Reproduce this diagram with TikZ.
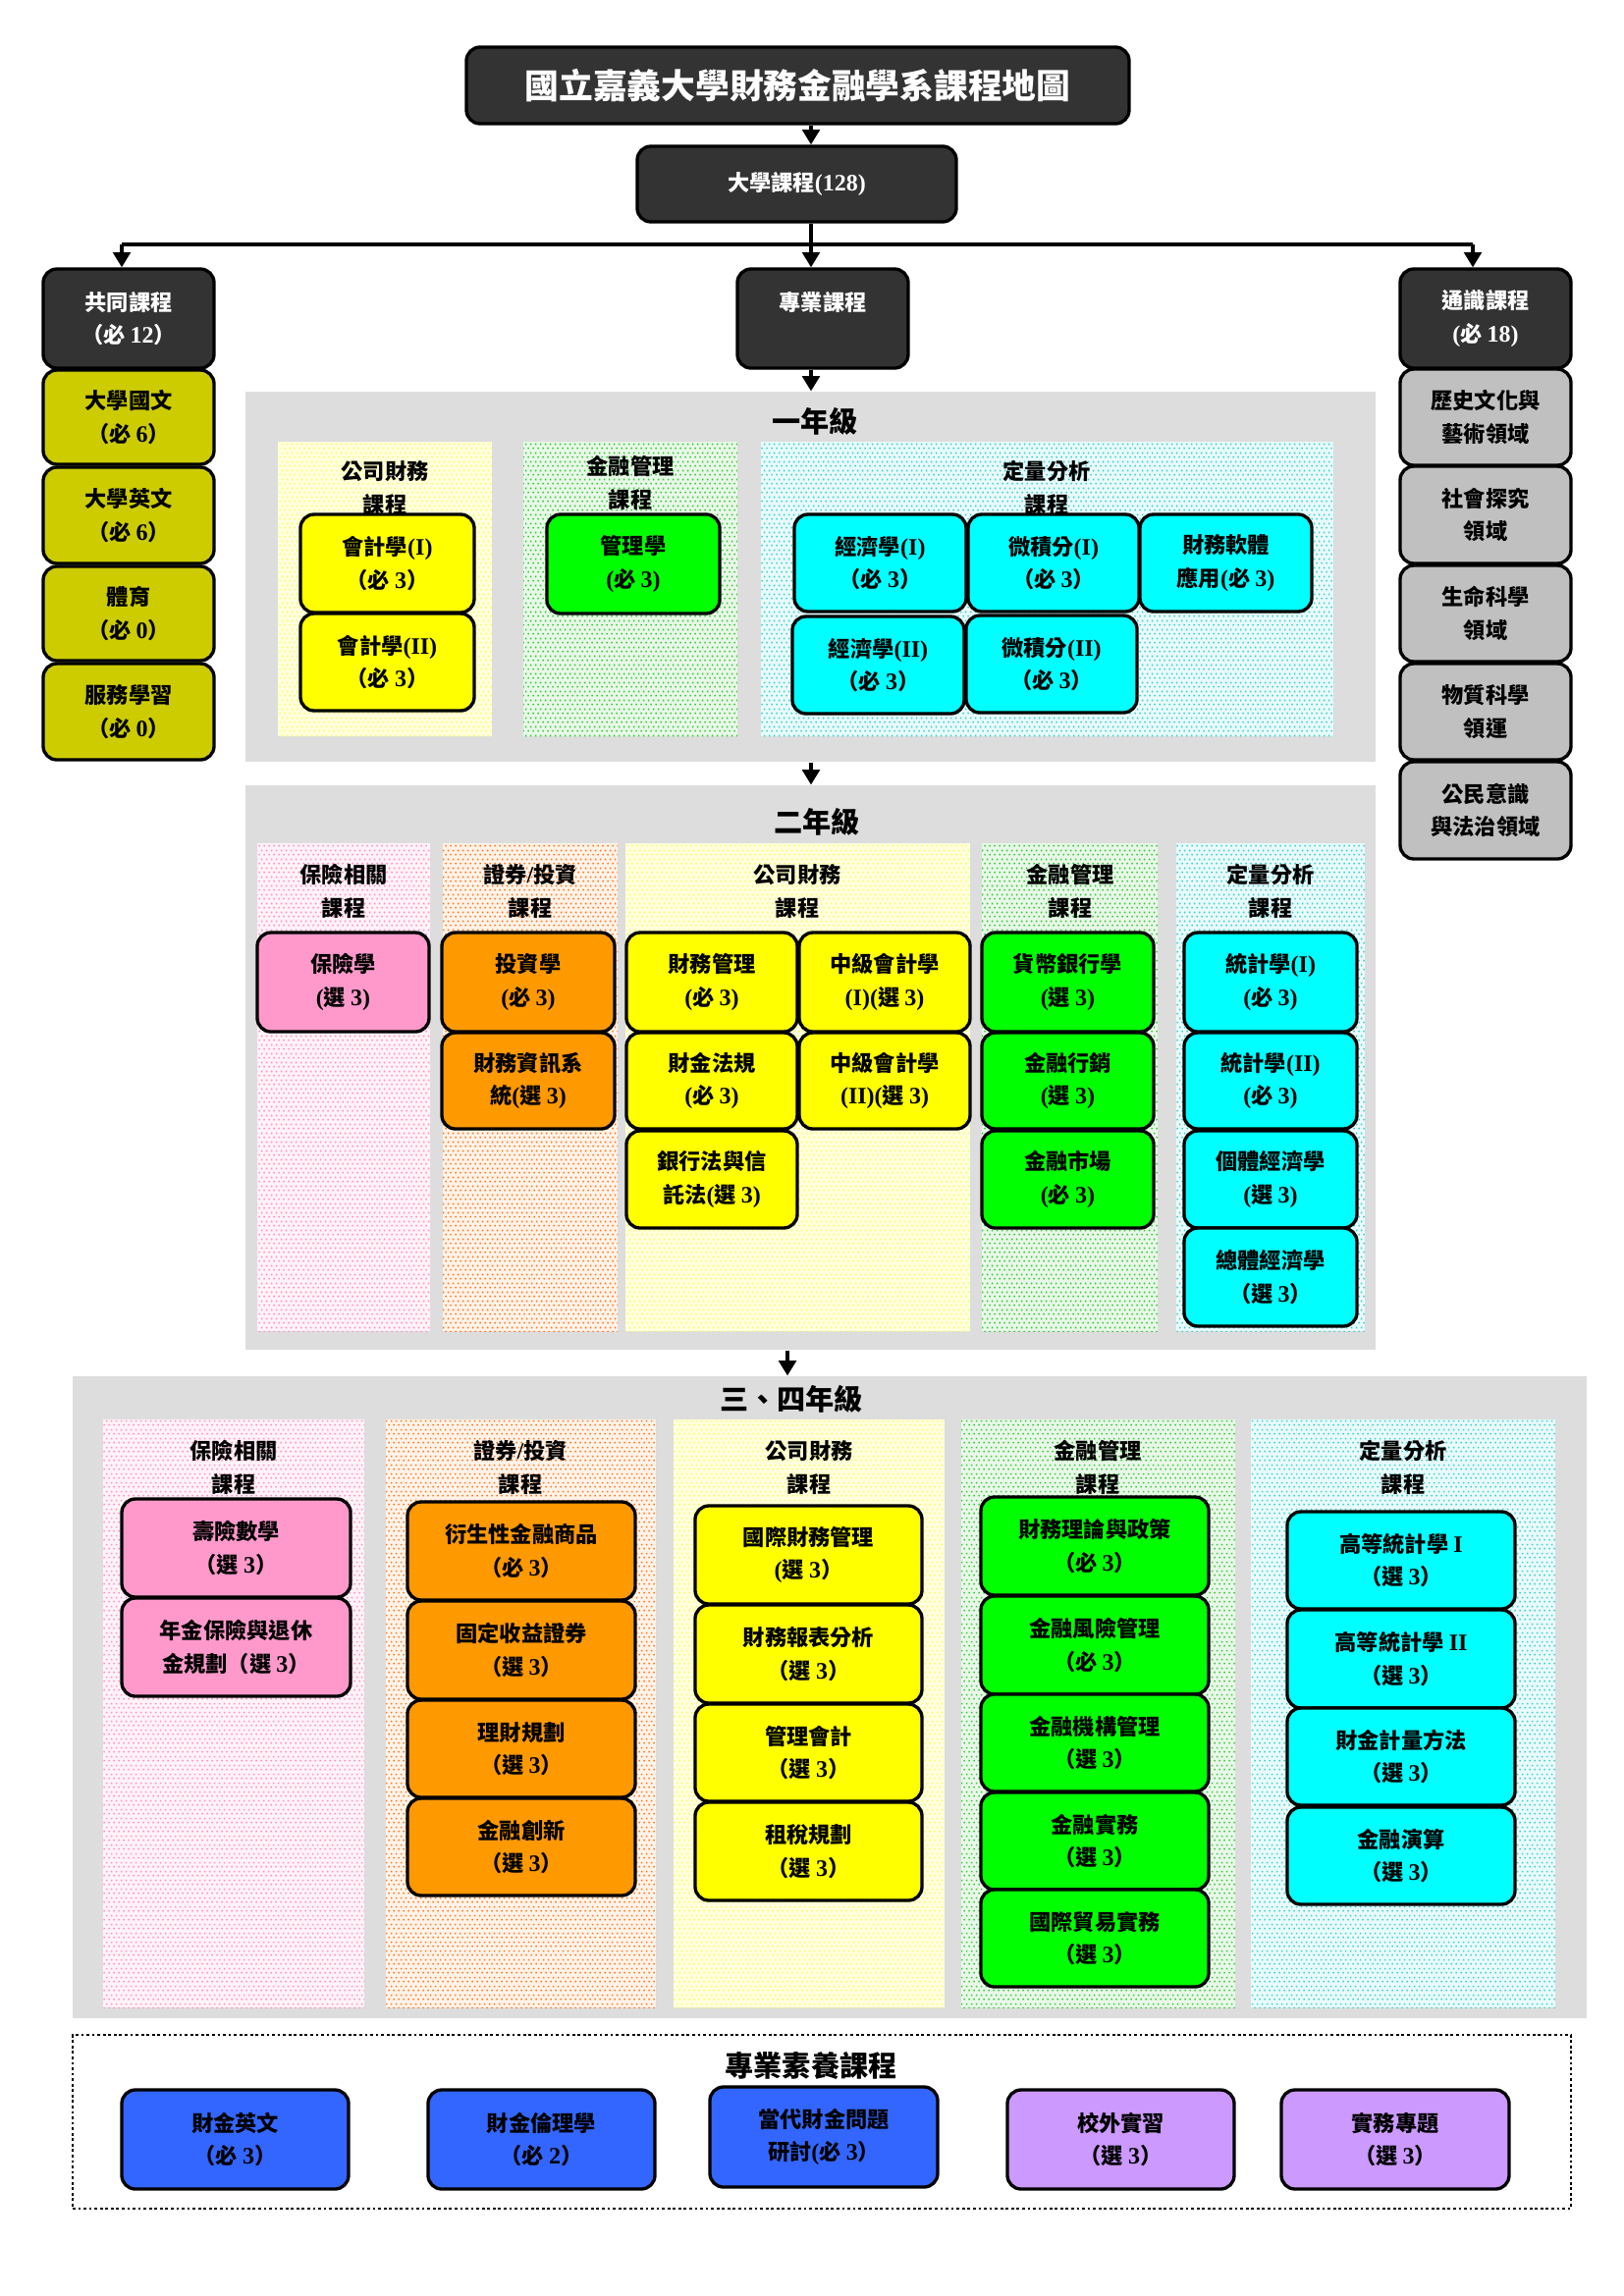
\documentclass[tikz,border=0pt]{standalone}
\usepackage{fontspec}
\setmainfont{Liberation Serif}[Scale=1.08]
\newfontfamily\cjkfont{Noto Sans CJK TC}
\usetikzlibrary{arrows.meta,patterns}
% automatic switching between CJK and Latin fonts
\XeTeXinterchartokenstate=1
\newXeTeXintercharclass\CJKcls
\newcount\cjkcnt
\cjkcnt="3000
\loop\ifnum\cjkcnt<"3040 \XeTeXcharclass\cjkcnt=\CJKcls \advance\cjkcnt by 1 \repeat
\cjkcnt="4E00
\loop\ifnum\cjkcnt<"A000 \XeTeXcharclass\cjkcnt=\CJKcls \advance\cjkcnt by 1 \repeat
\cjkcnt="FF00
\loop\ifnum\cjkcnt<"FFF0 \XeTeXcharclass\cjkcnt=\CJKcls \advance\cjkcnt by 1 \repeat
\XeTeXinterchartoks 0 \CJKcls = {\cjkfont}
\XeTeXinterchartoks 4095 \CJKcls = {\cjkfont}
\XeTeXinterchartoks \CJKcls 0 = {\rmfamily}
\XeTeXinterchartoks 4095 0 = {\rmfamily}

\pgfdeclarepatternformonly{fdots}{\pgfqpoint{0pt}{0pt}}{\pgfqpoint{1.9pt}{3.1pt}}{\pgfqpoint{1.9pt}{3.1pt}}{%
  \pgfpathrectangle{\pgfqpoint{0.2pt}{0.2pt}}{\pgfqpoint{0.6pt}{0.6pt}}%
  \pgfpathrectangle{\pgfqpoint{1.15pt}{1.75pt}}{\pgfqpoint{0.6pt}{0.6pt}}%
  \pgfusepath{fill}}

\definecolor{darkbox}{RGB}{51,51,51}
\definecolor{olivebox}{RGB}{204,204,0}
\definecolor{graybox}{RGB}{192,192,192}
\definecolor{panelgray}{RGB}{221,221,221}
\definecolor{cyel}{RGB}{255,255,0}
\definecolor{cgrn}{RGB}{0,255,0}
\definecolor{ccya}{RGB}{0,255,255}
\definecolor{cpnk}{RGB}{255,153,204}
\definecolor{corg}{RGB}{255,153,0}
\definecolor{cblu}{RGB}{51,102,255}
\definecolor{cpur}{RGB}{204,153,255}
\definecolor{dyel}{RGB}{250,250,100}
\definecolor{dgrn}{RGB}{50,200,50}
\definecolor{dcya}{RGB}{60,205,205}
\definecolor{dpnk}{RGB}{255,140,195}
\definecolor{dorg}{RGB}{255,115,25}
\definecolor{byel}{RGB}{255,255,222}
\definecolor{bgrn}{RGB}{232,248,232}
\definecolor{bcya}{RGB}{232,250,250}
\definecolor{bpnk}{RGB}{255,242,248}
\definecolor{borg}{RGB}{255,243,232}

\newcommand\boxfont{\fontsize{8}{12}\selectfont\bfseries}
\newcommand\headfont{\fontsize{10.5}{12}\selectfont\bfseries}
\newcommand\titlefont{\fontsize{12.5}{14}\selectfont\bfseries}

\tikzset{
  cbox/.style={draw=black, line width=1.2pt, rounded corners=5pt, inner sep=0pt, align=center, font=\boxfont},
  dbox/.style={cbox, fill=darkbox, text=white},
  panel/.style={fill=panelgray, inner sep=0pt},
  subpanel/.style 2 args={fill=#1, postaction={pattern=fdots, pattern color=#2}, inner sep=0pt},
  lbl/.style={align=center, font=\boxfont, inner sep=0pt},
  yhead/.style={font=\headfont, inner sep=0pt},
  arr/.style={line width=1.3pt, -{Triangle[length=5.5pt,width=6.3pt]}},
  conn/.style={line width=1.3pt},
  frame/.style={draw=black, line width=0.9pt, dash pattern=on 1pt off 1pt, inner sep=0pt},
}

\newcommand\RB[7]{\node[#6, minimum width={(#4-#2)*0.3599pt}, minimum height={(#5-#3)*0.3599pt}] (#1) at ({(#2+#4)/2},{(#3+#5)/2}) {#7};}
\newcommand\LB[4]{\node[lbl] (#1) at (#2,#3) {#4};}

\begin{document}
\begin{tikzpicture}[x=0.3599pt,y=-0.3599pt]
\useasboundingbox (0,0) rectangle (1654,2339);
\fill[white] (0,0) rectangle (1654,2339);

% ---------- top ----------
\RB{title}{475}{48}{1150}{126}{dbox,font=\titlefont}{國立嘉義大學財務金融學系課程地圖}
\RB{univ}{649}{149}{974}{226}{dbox}{大學課程(128)}
\coordinate (split) at (826,249);
\coordinate (Lx) at (124,249);
\coordinate (Rx) at (1500,249);
\coordinate (m2) at (802,1390);

\RB{common}{44}{274}{218}{375}{dbox}{共同課程\\（必 12）}
\RB{prof}{751}{274}{925}{375}{dbox}{專業課程\\\phantom{課}}
\RB{gen}{1426}{274}{1600}{375}{dbox}{通識課程\\(必 18)}

\draw[arr] (title.south -| split) -- (univ.north -| split);
\draw[conn] (univ.south -| split) -- (split);
\draw[conn] (Lx) -- (Rx);
\draw[arr] (Lx) -- (Lx |- common.north);
\draw[arr] (split) -- (split |- prof.north);
\draw[arr] (Rx) -- (Rx |- gen.north);

% left column
\RB{gc1}{44}{377}{218}{473}{cbox,fill=olivebox}{大學國文\\（必 6）}
\RB{gc2}{44}{476}{218}{574}{cbox,fill=olivebox}{大學英文\\（必 6）}
\RB{gc3}{44}{577}{218}{673}{cbox,fill=olivebox}{體育\\（必 0）}
\RB{gc4}{44}{676}{218}{774}{cbox,fill=olivebox}{服務學習\\（必 0）}

% right column
\RB{ge1}{1426}{376}{1600}{474}{cbox,fill=graybox}{歷史文化與\\藝術領域}
\RB{ge2}{1426}{475}{1600}{574}{cbox,fill=graybox}{社會探究\\領域}
\RB{ge3}{1426}{576}{1600}{674}{cbox,fill=graybox}{生命科學\\領域}
\RB{ge4}{1426}{676}{1600}{774}{cbox,fill=graybox}{物質科學\\領運}
\RB{ge5}{1426}{776}{1600}{875}{cbox,fill=graybox}{公民意識\\與法治領域}

% ---------- year 1 ----------
\RB{y1}{250}{399}{1401}{776}{panel}{}
\node[yhead] (y1t) at (830,429) {一年級};
\RB{cf1}{283}{450}{501}{750}{subpanel={byel}{dyel}}{}
\RB{fm1}{533}{450}{751}{750}{subpanel={bgrn}{dgrn}}{}
\RB{qa1}{775}{450}{1358}{750}{subpanel={bcya}{dcya}}{}
\LB{cf1l}{392}{497}{公司財務\\課程}
\LB{fm1l}{642}{492}{金融管理\\課程}
\LB{qa1l}{1066}{497}{定量分析\\課程}
\RB{acc1}{306}{524}{483}{624}{cbox,fill=cyel}{會計學(I)\\（必 3）}
\RB{acc2}{306}{625}{483}{724}{cbox,fill=cyel}{會計學(II)\\（必 3）}
\RB{mgt}{557}{524}{733}{625}{cbox,fill=cgrn}{管理學\\(必 3)}
\RB{eco1}{809}{524}{984}{623}{cbox,fill=ccya}{經濟學(I)\\（必 3）}
\RB{cal1}{986}{524}{1160}{623}{cbox,fill=ccya}{微積分(I)\\（必 3）}
\RB{sw}{1161}{524}{1336}{623}{cbox,fill=ccya}{財務軟體\\應用(必 3)}
\RB{eco2}{807}{628}{982}{727}{cbox,fill=ccya}{經濟學(II)\\（必 3）}
\RB{cal2}{984}{627}{1158}{726}{cbox,fill=ccya}{微積分(II)\\（必 3）}

\draw[arr] (prof.south -| split) -- (y1.north -| split);

% ---------- year 2 ----------
\RB{y2}{250}{800}{1401}{1375}{panel}{}
\node[yhead] (y2t) at (832,837) {二年級};
\draw[arr] (y1.south -| split) -- (y2.north -| split);
\RB{ins2}{262}{859}{438}{1356}{subpanel={bpnk}{dpnk}}{}
\RB{sec2}{451}{859}{629}{1356}{subpanel={borg}{dorg}}{}
\RB{cf2}{637}{859}{988}{1356}{subpanel={byel}{dyel}}{}
\RB{fm2}{1000}{859}{1179}{1356}{subpanel={bgrn}{dgrn}}{}
\RB{qa2}{1198}{859}{1390}{1356}{subpanel={bcya}{dcya}}{}
\LB{ins2l}{350}{908}{保險相關\\課程}
\LB{sec2l}{540}{908}{證券/投資\\課程}
\LB{cf2l}{812}{908}{公司財務\\課程}
\LB{fm2l}{1090}{908}{金融管理\\課程}
\LB{qa2l}{1294}{908}{定量分析\\課程}
\RB{ins}{262}{950}{437}{1051}{cbox,fill=cpnk}{保險學\\(選 3)}
\RB{inv}{450}{950}{626}{1051}{cbox,fill=corg}{投資學\\(必 3)}
\RB{fis}{450}{1052}{626}{1150}{cbox,fill=corg}{財務資訊系\\統(選 3)}
\RB{fmg}{638}{950}{812}{1051}{cbox,fill=cyel}{財務管理\\(必 3)}
\RB{ia1}{814}{950}{988}{1051}{cbox,fill=cyel}{中級會計學\\(I)(選 3)}
\RB{flaw}{638}{1052}{812}{1150}{cbox,fill=cyel}{財金法規\\(必 3)}
\RB{ia2}{814}{1052}{988}{1150}{cbox,fill=cyel}{中級會計學\\(II)(選 3)}
\RB{bank}{638}{1152}{812}{1251}{cbox,fill=cyel}{銀行法與信\\託法(選 3)}
\RB{mb}{1000}{950}{1175}{1051}{cbox,fill=cgrn}{貨幣銀行學\\(選 3)}
\RB{fmk}{1000}{1052}{1175}{1150}{cbox,fill=cgrn}{金融行銷\\(選 3)}
\RB{fmt}{1000}{1152}{1175}{1251}{cbox,fill=cgrn}{金融市場\\(必 3)}
\RB{st1}{1206}{950}{1382}{1051}{cbox,fill=ccya}{統計學(I)\\(必 3)}
\RB{st2}{1206}{1052}{1382}{1150}{cbox,fill=ccya}{統計學(II)\\(必 3)}
\RB{micro}{1206}{1152}{1382}{1251}{cbox,fill=ccya}{個體經濟學\\(選 3)}
\RB{macro}{1206}{1251}{1382}{1351}{cbox,fill=ccya}{總體經濟學\\（選 3）}

% ---------- year 3-4 ----------
\RB{y34}{74}{1402}{1616}{2056}{panel}{}
\node[yhead] (y34t) at (806,1425) {三、四年級};
\draw[arr] (y2.south -| m2) -- (y34.north -| m2);
\RB{ins3}{105}{1446}{371}{2045}{subpanel={bpnk}{dpnk}}{}
\RB{sec3}{393}{1446}{668}{2045}{subpanel={borg}{dorg}}{}
\RB{cf3}{686}{1446}{962}{2045}{subpanel={byel}{dyel}}{}
\RB{fm3}{979}{1446}{1258}{2045}{subpanel={bgrn}{dgrn}}{}
\RB{qa3}{1274}{1446}{1584}{2045}{subpanel={bcya}{dcya}}{}
\LB{ins3l}{238}{1495}{保險相關\\課程}
\LB{sec3l}{530}{1495}{證券/投資\\課程}
\LB{cf3l}{824}{1495}{公司財務\\課程}
\LB{fm3l}{1118}{1495}{金融管理\\課程}
\LB{qa3l}{1429}{1495}{定量分析\\課程}

\RB{la}{124}{1527}{357}{1627}{cbox,fill=cpnk}{壽險數學\\（選 3）}
\RB{pen}{124}{1628}{357}{1728}{cbox,fill=cpnk}{年金保險與退休\\金規劃（選 3）}

\RB{der}{415}{1530}{647}{1630}{cbox,fill=corg}{衍生性金融商品\\（必 3）}
\RB{fix}{415}{1631}{647}{1731}{cbox,fill=corg}{固定收益證券\\（選 3）}
\RB{wm}{415}{1732}{647}{1831}{cbox,fill=corg}{理財規劃\\（選 3）}
\RB{fin}{415}{1832}{647}{1931}{cbox,fill=corg}{金融創新\\（選 3）}

\RB{ifm}{708}{1534}{939}{1634}{cbox,fill=cyel}{國際財務管理\\(選 3）}
\RB{fsa}{708}{1635}{939}{1735}{cbox,fill=cyel}{財務報表分析\\（選 3）}
\RB{mac}{708}{1736}{939}{1835}{cbox,fill=cyel}{管理會計\\（選 3）}
\RB{tax}{708}{1836}{939}{1936}{cbox,fill=cyel}{租稅規劃\\（選 3）}

\RB{ftp}{999}{1525}{1231}{1625}{cbox,fill=cgrn}{財務理論與政策\\（必 3）}
\RB{frm}{999}{1626}{1231}{1726}{cbox,fill=cgrn}{金融風險管理\\（必 3）}
\RB{fim}{999}{1726}{1231}{1825}{cbox,fill=cgrn}{金融機構管理\\（選 3）}
\RB{fpr}{999}{1826}{1231}{1925}{cbox,fill=cgrn}{金融實務\\（選 3）}
\RB{itp}{999}{1925}{1231}{2024}{cbox,fill=cgrn}{國際貿易實務\\（選 3）}

\RB{as1}{1311}{1540}{1543}{1639}{cbox,fill=ccya}{高等統計學 I\\（選 3）}
\RB{as2}{1311}{1640}{1543}{1740}{cbox,fill=ccya}{高等統計學 II\\（選 3）}
\RB{ecm}{1311}{1740}{1543}{1839}{cbox,fill=ccya}{財金計量方法\\（選 3）}
\RB{fcp}{1311}{1841}{1543}{1940}{cbox,fill=ccya}{金融演算\\（選 3）}

% ---------- professional literacy ----------
\RB{pfrm}{74}{2073}{1600}{2250}{frame}{}
\node[yhead] (pft) at (826,2104) {專業素養課程};
\RB{fe}{124}{2129}{355}{2230}{cbox,fill=cblu}{財金英文\\（必 3）}
\RB{eth}{436}{2129}{667}{2230}{cbox,fill=cblu}{財金倫理學\\（必 2）}
\RB{cur}{723}{2126}{955}{2228}{cbox,fill=cblu}{當代財金問題\\研討(必 3）}
\RB{intern}{1026}{2129}{1257}{2230}{cbox,fill=cpur}{校外實習\\（選 3）}
\RB{proj}{1305}{2129}{1537}{2230}{cbox,fill=cpur}{實務專題\\（選 3）}
\end{tikzpicture}
\end{document}
